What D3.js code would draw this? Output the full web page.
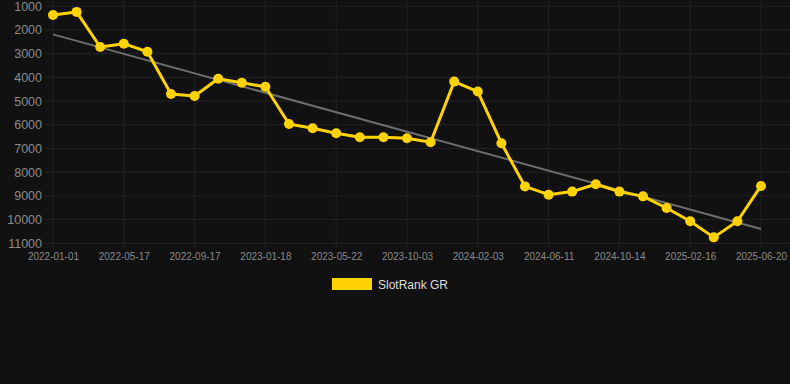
<!DOCTYPE html>
<html>
<head>
<meta charset="utf-8">
<script src="https://cdn.jsdelivr.net/npm/d3@7"></script>
<style>
  html, body { margin: 0; padding: 0; background: #111111; }
  svg { display: block; font-family: "Liberation Sans", Arial, sans-serif; }
</style>
</head>
<body>
<div id="chart"></div>
<script>
// dates of each ranking snapshot (only every third one is labelled)
const dates = [
  "2022-01-01", "2022-02-15", "2022-04-01", "2022-05-17", "2022-06-27", "2022-08-07",
  "2022-09-17", "2022-10-28", "2022-12-08", "2023-01-18", "2023-03-02", "2023-04-11",
  "2023-05-22", "2023-07-06", "2023-08-20", "2023-10-03", "2023-11-13", "2023-12-24",
  "2024-02-03", "2024-03-17", "2024-04-29", "2024-06-11", "2024-07-23", "2024-09-02",
  "2024-10-14", "2024-11-25", "2025-01-05", "2025-02-16", "2025-03-31", "2025-05-10",
  "2025-06-20"
];
const rankGR = [
  1370, 1240, 2720, 2580, 2920, 4700, 4790, 4060, 4230, 4400, 5970, 6150,
  6360, 6530, 6530, 6570, 6740, 4180, 4600, 6780, 8600, 8950, 8820, 8510,
  8820, 9020, 9510, 10070, 10750, 10070, 8580
];
const xTickLabels = ["2022-01-01", "2022-05-17", "2022-09-17", "2023-01-18", "2023-05-22",
  "2023-10-03", "2024-02-03", "2024-06-11", "2024-10-14", "2025-02-16", "2025-06-20"];
const yTicks = [1000, 2000, 3000, 4000, 5000, 6000, 7000, 8000, 9000, 10000, 11000];
const seriesName = "SlotRank GR";

const width = 790, height = 384;
const yellow = "#ffd200";
const gridColor = "#232323";

let svg = d3.select("#chart")
    .append("svg")
    .attr("width", width)
    .attr("height", height);

svg.append("rect").attr("width", width).attr("height", height).attr("fill", "#111111");

let x = d3.scalePoint()
    .domain(dates)
    .range([53, 761]);

let y = d3.scaleLinear()
    .domain([1000, 11000])
    .range([6.2, 243.3]);

// grid
svg.append("g")
    .selectAll("line")
    .data(yTicks)
    .enter()
    .append("line")
    .attr("x1", 45).attr("x2", width)
    .attr("y1", d => y(d)).attr("y2", d => y(d))
    .attr("stroke", gridColor).attr("stroke-width", 1);

svg.append("g")
    .selectAll("line")
    .data(xTickLabels)
    .enter()
    .append("line")
    .attr("x1", d => x(d)).attr("x2", d => x(d))
    .attr("y1", 0).attr("y2", y(11000) + 5)
    .attr("stroke", gridColor).attr("stroke-width", 1);

// axes
let yAxis = svg.append("g")
    .attr("transform", "translate(45,0)")
    .call(d3.axisLeft(y).tickValues(yTicks).tickFormat(d3.format("d")).tickSize(0).tickPadding(3));
yAxis.select(".domain").remove();
yAxis.selectAll("text")
    .attr("fill", "#8a8a8a")
    .style("font-size", "12.5px");

let xAxis = svg.append("g")
    .attr("transform", "translate(0," + y(11000) + ")")
    .call(d3.axisBottom(x).tickValues(xTickLabels).tickSize(0).tickPadding(10));
xAxis.select(".domain").remove();
xAxis.selectAll("text")
    .attr("fill", "#8a8a8a")
    .style("font-size", "10px");

// trend line (least squares on index)
let n = rankGR.length;
let mx = d3.mean(rankGR, (d, i) => i), my = d3.mean(rankGR);
let sxy = d3.sum(rankGR, (d, i) => (i - mx) * (d - my));
let sxx = d3.sum(rankGR, (d, i) => (i - mx) * (i - mx));
let slope = sxy / sxx, icpt = my - slope * mx;

svg.append("line")
    .attr("x1", x(dates[0])).attr("y1", y(icpt))
    .attr("x2", x(dates[n - 1])).attr("y2", y(icpt + slope * (n - 1)))
    .attr("stroke", "#6e6e6e")
    .attr("stroke-width", 2);

// series
let line = d3.line()
    .x((d, i) => x(dates[i]))
    .y(d => y(d));

svg.append("path")
    .datum(rankGR)
    .attr("d", line)
    .attr("fill", "none")
    .attr("stroke", yellow)
    .attr("stroke-width", 3)
    .attr("stroke-linejoin", "round");

svg.append("g")
    .selectAll("circle")
    .data(rankGR)
    .enter()
    .append("circle")
    .attr("cx", (d, i) => x(dates[i]))
    .attr("cy", d => y(d))
    .attr("r", 5)
    .attr("fill", yellow);

// legend
svg.append("rect")
    .attr("x", 332).attr("y", 278)
    .attr("width", 40).attr("height", 12)
    .attr("fill", yellow);
svg.append("text")
    .attr("x", 378).attr("y", 289)
    .attr("fill", "#dddddd")
    .style("font-size", "12px")
    .text(seriesName);
</script>
</body>
</html>
